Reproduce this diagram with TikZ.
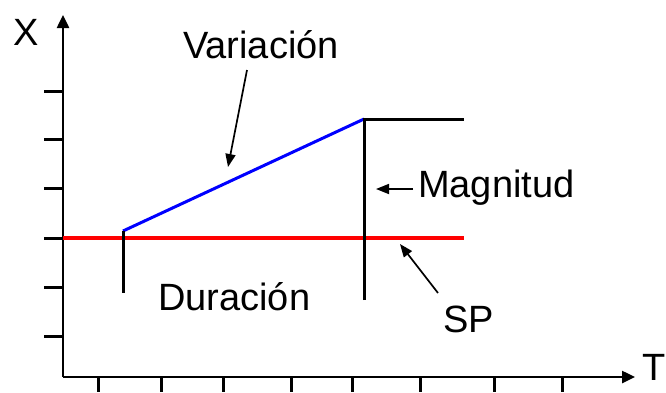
\documentclass[tikz,border=0pt]{standalone}
\usepackage{fontspec}
\setmainfont{Liberation Sans}
\usetikzlibrary{arrows.meta}
\begin{document}
\begin{tikzpicture}[x=1pt,y=-1pt,
  lbl/.style={anchor=base west,inner sep=0pt,font=\fontsize{38}{40}\selectfont},
  axis/.style={line width=2.5pt,-{Triangle[length=13pt,width=12pt]}},
  tick/.style={line width=3pt},
  curve/.style={line width=3pt},
  ann/.style={line width=1.7pt,-{Triangle[length=13pt,width=10pt]}}]
\useasboundingbox (0,0) rectangle (666,392);
% axes
\coordinate (O) at (63,377);
\coordinate (ytop) at (63,15);
\coordinate (xend) at (635,377);
\draw[axis] (O) -- (ytop);
\draw[axis] (O) -- (xend);
\foreach \y in {91,139,188,238,287,336} \draw[tick] (44,\y) -- (63,\y);
\foreach \x in {98,161,223,291,352,420,494,562} \draw[tick] (\x,377) -- (\x,392);
% axis labels
\node[lbl] (X) at (13,45) {X};
\node[lbl] (T) at (642,380) {T};
% set point and response
\coordinate (sp0) at (63,238);
\coordinate (sp1) at (464,238);
\draw[red,line width=4.5pt] (sp0) -- (sp1);
\coordinate (a) at (123,231);
\coordinate (ab) at (123,293);
\coordinate (b) at (364,119);
\coordinate (bb) at (364,300);
\coordinate (c) at (464,119);
\draw[blue,curve] (a) -- (b);
\draw[curve] (a) -- (ab);
\draw[curve] (bb) -- (b) -- (c);
% labels
\node[lbl] (var) at (183,58) {Variación};
\node[lbl] (mag) at (418,197) {Magnitud};
\node[lbl] (dur) at (158,310) {Duración};
\node[lbl] (sp) at (443,332) {SP};
% annotation arrows
\coordinate (v0) at (247,70);
\coordinate (v1) at (228,167);
\coordinate (m0) at (413,189);
\coordinate (m1) at (376,189);
\coordinate (s0) at (438,293);
\coordinate (s1) at (400,244);
\draw[ann] (v0) -- (v1);
\draw[ann] (m0) -- (m1);
\draw[ann] (s0) -- (s1);
\end{tikzpicture}
\end{document}
